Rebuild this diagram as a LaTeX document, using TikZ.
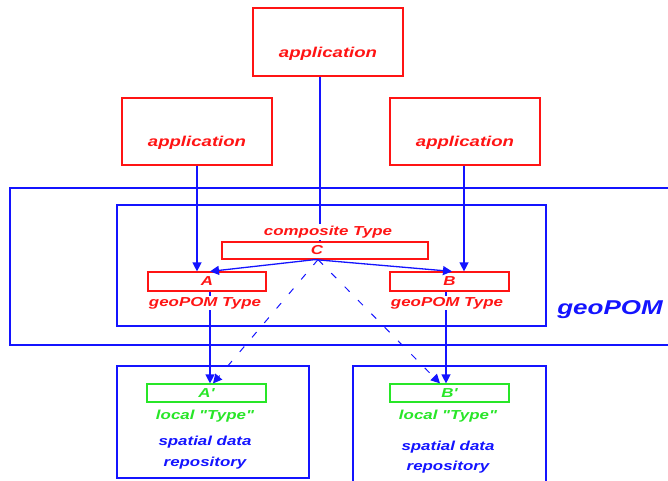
\documentclass[tikz,border=0pt]{standalone}
\usepackage{fontspec}
\newfontfamily\hvfont[FakeStretch=1.3]{Liberation Sans}
\usetikzlibrary{arrows.meta}
\definecolor{boxred}{RGB}{255,20,20}
\definecolor{lineblue}{RGB}{20,20,255}
\definecolor{localgreen}{RGB}{40,230,40}

\begin{document}
\begin{tikzpicture}[x = 1pt, y = -1pt, font=\hvfont\bfseries\itshape]
	\tikzstyle{appStyle}=[draw = boxred, line width = 1.2pt, text = boxred, minimum width = 150pt, inner ysep = 0pt, text depth = 19pt, font = \hvfont\bfseries\itshape\fontsize{14.3}{16}\selectfont]
	\tikzstyle{typeStyle}=[draw = boxred, line width = 1.2pt, text = boxred, inner sep = 0pt, minimum height = 19pt, font = \hvfont\bfseries\itshape\fontsize{13}{15}\selectfont]
	\tikzstyle{localStyle}=[draw = localgreen, line width = 1.2pt, text = localgreen, inner sep = 0pt, minimum width = 119pt, minimum height = 18pt, font = \hvfont\bfseries\itshape\fontsize{13}{15}\selectfont]
	\tikzstyle{frameStyle}=[draw = lineblue, line width = 1.2pt]
	\tikzstyle{labelStyle}=[fill = white, inner sep = 1.5pt, font = \hvfont\bfseries\itshape\fontsize{13}{15}\selectfont]
	\tikzstyle{linkStyle}=[draw = lineblue, line width = 1.3pt]
	\tikzstyle{arrowStyle}=[linkStyle, -{Triangle[length = 9pt, width = 9pt]}]
	\tikzstyle{dashStyle}=[draw = lineblue, line width = 1pt, dash pattern = on 7pt off 12pt, -{Triangle[length = 9pt, width = 9pt]}]
	\useasboundingbox (0,0) rectangle (668,480);
	% frames
	\draw[frameStyle] (680,188) -- (10,188) -- (10,345) -- (680,345);
	\draw[frameStyle] (117,205) rectangle (546,326);
	\draw[frameStyle] (117,366) rectangle (309,478);
	\draw[frameStyle] (353,490) -- (353,366) -- (546,366) -- (546,490);
	% applications
	\node[appStyle, text height = 49pt] (appT) at (328,42) {application};
	\node[appStyle, text height = 48pt] (appL) at (197,131.5) {application};
	\node[appStyle, text height = 48pt] (appR) at (465,131.5) {application};
	% types
	\node[typeStyle, minimum width = 206pt, minimum height = 17pt, label = {[xshift = -8pt, text = boxred, font = \hvfont\bfseries\itshape\fontsize{13}{15}\selectfont]center:C}] (C) at (325,250.5) {};
	\node[typeStyle, minimum width = 118pt] (A) at (207,281.5) {A};
	\node[typeStyle, minimum width = 119pt] (B) at (449.5,281.5) {B};
	\node[localStyle] (Ap) at (206.5,393) {A'};
	\node[localStyle] (Bp) at (449.5,393) {B'};
	% connectors
	\draw[linkStyle] ([xshift = -8pt]appT.south) -- ([xshift = -8pt]appT.south |- C.north);
	\draw[arrowStyle] (appL.south) -- (appL.south |- A.north);
	\draw[arrowStyle] ([xshift = -1pt]appR.south) -- ([xshift = -1pt]appR.south |- B.north);
	\draw[arrowStyle] ([xshift = -10pt]C.south) -- ([xshift = 3pt]A.north);
	\draw[arrowStyle] ([xshift = -10pt]C.south) -- ([xshift = 2.5pt]B.north);
	\draw[arrowStyle] ([xshift = 3pt]A.south) -- ([xshift = 3pt]A.south |- Ap.north);
	\draw[arrowStyle] ([xshift = -3.5pt]B.south) -- ([xshift = -3.5pt]B.south |- Bp.north);
	\draw[dashStyle] ([xshift = -7pt]C.south) -- ([xshift = 6.5pt]Ap.north);
	\draw[dashStyle] ([xshift = -7pt]C.south) -- ([xshift = -9.5pt]Bp.north);
	% labels
	\node[labelStyle, text = boxred] (compLabel) at (328,232) {composite Type};
	\node[labelStyle, text = boxred] (geoA) at (205,303) {geoPOM Type};
	\node[labelStyle, text = boxred] (geoB) at (447,303) {geoPOM Type};
	\node[labelStyle, text = localgreen] (locA) at (205,416) {local "Type"};
	\node[labelStyle, text = localgreen] (locB) at (448,416) {local "Type"};
	\node[labelStyle, text = lineblue, align = center, font = \hvfont\bfseries\itshape\fontsize{13}{21}\selectfont] (repoA) at (205,452.5) {spatial data\\repository};
	\node[labelStyle, text = lineblue, align = center, font = \hvfont\bfseries\itshape\fontsize{13}{20}\selectfont] (repoB) at (448,457) {spatial data\\repository};
	\node[text = lineblue, font = \hvfont\bfseries\itshape\fontsize{20}{24}\selectfont] (geoPOM) at (610,310) {geoPOM};
\end{tikzpicture}
\end{document}
